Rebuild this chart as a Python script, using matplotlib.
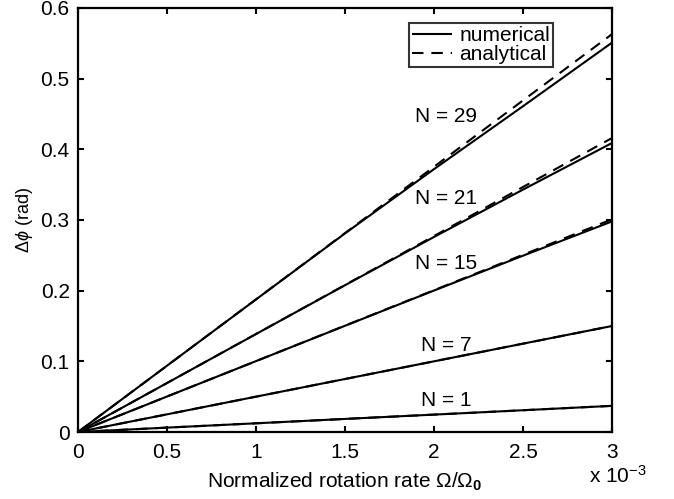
import matplotlib
matplotlib.use("Agg")
import matplotlib.pyplot as plt

plt.rcParams['font.family'] = ['Liberation Sans', 'DejaVu Sans']
plt.rcParams['mathtext.fontset'] = 'custom'
plt.rcParams['mathtext.rm'] = 'Liberation Sans'
plt.rcParams['mathtext.it'] = 'Liberation Sans:italic'
plt.rcParams['mathtext.bf'] = 'Liberation Sans:bold'

# Data (normalized rotation rate in units of 1e-3)
x = [0.0, 0.5, 1.0, 1.5, 2.0, 2.5, 3.0]
N_labels = ['N = 1', 'N = 7', 'N = 15', 'N = 21', 'N = 29']
numerical = [
    [0.0, 0.0062, 0.0123, 0.0185, 0.0246, 0.0308, 0.037],
    [0.0, 0.0250, 0.0500, 0.0750, 0.1000, 0.1250, 0.150],
    [0.0, 0.0502, 0.1003, 0.1503, 0.2002, 0.2495, 0.298],
    [0.0, 0.0693, 0.1386, 0.2077, 0.2760, 0.3430, 0.409],
    [0.0, 0.0938, 0.1876, 0.2810, 0.3720, 0.4610, 0.551],
]
analytical = [
    [0.0, 0.0062, 0.0123, 0.0185, 0.0246, 0.0308, 0.037],
    [0.0, 0.0250, 0.0500, 0.0750, 0.1000, 0.1250, 0.150],
    [0.0, 0.0502, 0.1003, 0.1505, 0.2007, 0.2508, 0.301],
    [0.0, 0.0693, 0.1387, 0.2080, 0.2773, 0.3467, 0.416],
    [0.0, 0.0938, 0.1877, 0.2815, 0.3753, 0.4692, 0.563],
]
label_x = [2.07, 2.07, 2.07, 2.07, 2.07]
label_y = [0.045, 0.123, 0.239, 0.331, 0.446]
xticks = [0, 0.5, 1, 1.5, 2, 2.5, 3]
xticklabels = ['0', '0.5', '1', '1.5', '2', '2.5', '3']
yticks = [0, 0.1, 0.2, 0.3, 0.4, 0.5, 0.6]
yticklabels = ['0', '0.1', '0.2', '0.3', '0.4', '0.5', '0.6']

FS = 15

fig = plt.figure(figsize=(6.74, 4.99), dpi=100)
ax = fig.add_axes([78 / 674, 1 - 432 / 499, 534 / 674, 424 / 499])

for i in range(len(N_labels)):
    ln1, = ax.plot(x, numerical[i], color='black', lw=1.5, solid_capstyle='butt')
    ln2, = ax.plot(x, analytical[i], color='black', lw=1.5, dashes=(5.5, 3.8))
    ax.text(label_x[i], label_y[i], N_labels[i], ha='center', va='center', fontsize=FS)

leg = ax.legend([ln1, ln2], ['numerical', 'analytical'], loc='upper right',
                bbox_to_anchor=(0.8895, 0.9646), borderaxespad=0.0,
                fontsize=FS, frameon=True, fancybox=False,
                handlelength=1.9, handletextpad=0.35, borderpad=0.15,
                labelspacing=0.0)
leg.get_frame().set_edgecolor('black')
leg.get_frame().set_linewidth(1.5)

ax.set_xlim(0, 3)
ax.set_ylim(0, 0.6)
ax.set_xticks(xticks)
ax.set_xticklabels(xticklabels)
ax.set_yticks(yticks)
ax.set_yticklabels(yticklabels)
ax.tick_params(direction='in', top=True, right=True, labelsize=FS, width=1.5, length=4)
ax.tick_params(axis='x', pad=8)
ax.tick_params(axis='y', pad=6)
for s in ax.spines.values():
    s.set_linewidth(1.6)

ax.set_xlabel(r'Normalized rotation rate $\Omega/\Omega_{\mathbf{0}}$', fontsize=FS, labelpad=6)
ax.set_ylabel(r'$\Delta\phi$ (rad)', fontsize=13, labelpad=4)
fig.text(618 / 674, 1 - 483 / 499, r'x 10$^{-3}$', fontsize=FS, ha='center', va='baseline')

fig.savefig('out.png', dpi=100)
